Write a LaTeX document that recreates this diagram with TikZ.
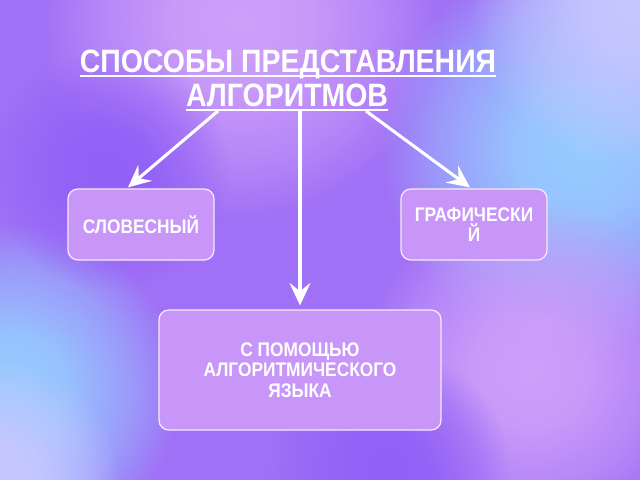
\documentclass[tikz,border=0pt]{standalone}
\usepackage{fontspec}
\setmainfont{Liberation Sans}
\newfontfamily\condfont[FakeStretch=0.88]{Liberation Sans}
\usetikzlibrary{fadings,arrows.meta,calc}
\pgfdeclareradialshading{softblob}{\pgfpoint{0bp}{0bp}}{color(0bp)=(pgftransparent!0); color(8bp)=(pgftransparent!10); color(18bp)=(pgftransparent!55); color(25bp)=(pgftransparent!100); color(50bp)=(pgftransparent!100)}
\pgfdeclarefading{blob}{\pgfuseshading{softblob}}
\definecolor{bgbase}{RGB}{160,112,246}
\definecolor{lblue}{RGB}{150,204,255}
\definecolor{lav}{RGB}{200,200,255}
\definecolor{lviol}{RGB}{206,160,250}
\definecolor{dviol}{RGB}{146,96,246}
\definecolor{boxfill}{RGB}{200,150,248}
\tikzset{
  box/.style={draw=white!80!boxfill, line width=0.9pt, fill=boxfill, rounded corners=7pt,
     text=white, font=\condfont\bfseries\fontsize{14}{14.5}\selectfont, align=center, inner sep=0pt},
  conn/.style={draw=white, line width=2.2pt, -{Stealth[length=16pt,width=15pt,inset=6pt]}},
  titletext/.style={text=white, font=\condfont\bfseries\fontsize{23}{26}\selectfont, inner sep=0pt, anchor=base},
  uline/.style={draw=white, line width=1.4pt},
  blobfill/.style={fill=#1, path fading=blob}
}
\begin{document}
\begin{tikzpicture}[x=0.025cm,y=-0.025cm]
\useasboundingbox (0,0) rectangle (640,480);
% background
\fill[bgbase] (0,0) rectangle (640,480);
\begin{scope}
\clip (0,0) rectangle (640,480);
\fill[blobfill=lviol] (240,20) circle (200);
\fill[blobfill=lblue] (580,150) circle (200);
\fill[blobfill=lav] (640,0) circle (170);
\fill[blobfill=lblue] (10,390) circle (170);
\fill[blobfill=lav] (0,480) circle (120);
\fill[blobfill=lviol] (530,370) circle (170);
\fill[blobfill=dviol] (110,170) circle (120);
\fill[blobfill=dviol] (390,470) circle (120);
\end{scope}
% title
\node[titletext] (t1) at (288,72) {СПОСОБЫ ПРЕДСТАВЛЕНИЯ};
\node[titletext] (t2) at (287,106) {АЛГОРИТМОВ};
\draw[uline] ($(t1.base west)+(0,4)$) -- ($(t1.base east)+(0,4)$);
\draw[uline] ($(t2.base west)+(0,4)$) -- ($(t2.base east)+(0,4)$);
\coordinate (s1) at (218,111);
\coordinate (s2) at (300,111);
\coordinate (s3) at (366,111);
% boxes
\node[box, minimum width=3.65cm, minimum height=1.775cm] (slov) at (141,224.5) {СЛОВЕСНЫЙ};
\node[box, minimum width=3.65cm, minimum height=1.775cm] (graf) at (474,224.5) {ГРАФИЧЕСКИ\\Й};
\node[box, minimum width=7.05cm, minimum height=3.0cm] (alg) at (300,370) {С ПОМОЩЬЮ\\АЛГОРИТМИЧЕСКОГО\\ЯЗЫКА};
% connectors
\draw[conn] (s1) -- ($(slov.north)+(-13,-1)$);
\draw[conn] (s2) -- ($(alg.north)+(0,-4)$);
\draw[conn] (s3) -- ($(graf.north)+(-4,-1)$);
\end{tikzpicture}
\end{document}
